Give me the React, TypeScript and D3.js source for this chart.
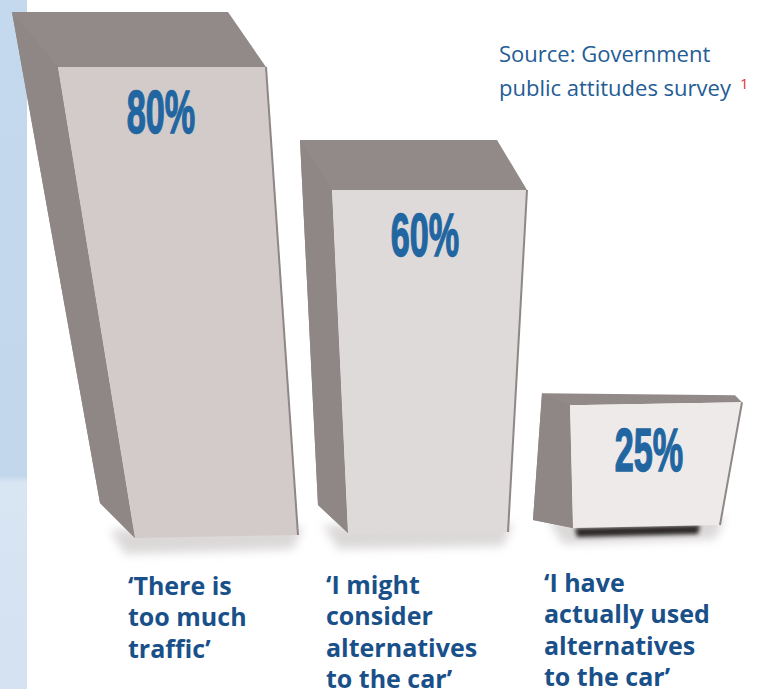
import React from "react";
import * as d3 from "d3";

const categories: string[][] = [
  ["‘There is", "too much", "traffic’"],
  ["‘I might", "consider", "alternatives", "to the car’"],
  ["‘I have", "actually used", "alternatives", "to the car’"],
];
const values: number[] = [80, 60, 25];
const valueLabels: string[] = ["80%", "60%", "25%"];
const sourceLines: string[] = ["Source: Government", "public attitudes survey"];
const footnote = "1";

// perspective geometry per bar (style, not data)
const shapes = [
  { ftl: 58, ftr: 266, fbl: [135, 538], fbr: [298, 535], btl: [-46, -55], btr: [-38, -55], sbl: [100, 503], front: "#d3cbca", labelX: 161, catX: 128, catY: 595 },
  { ftl: 332, ftr: 527, fbl: [348, 533], fbr: [508, 532], btl: [-32, -50], btr: [-30, -50], sbl: [318, 505], front: "#dedad9", labelX: 425, catX: 326, catY: 594 },
  { ftl: 570, ftr: 742, fbl: [573, 528], fbr: [720, 525], btl: [-28, -12], btr: [-7, -10], sbl: [533, 520], front: "#eeeaea", labelX: 649, catX: 544, catY: 592 },
];

const W = 758, H = 689;

export default function App() {
  const y = d3.scaleLinear().domain([0, 80]).range([559, 67]);
  const line = d3.line();
  return (
    <svg width={W} height={H} style={{ position: "absolute", left: 0, top: 0, background: "#fff" }}>
      <defs>
        <filter id="blur" x="-20%" y="-50%" width="140%" height="200%">
          <feGaussianBlur stdDeviation="5" />
        </filter>
        <filter id="blur2" x="-20%" y="-100%" width="140%" height="300%">
          <feGaussianBlur stdDeviation="2" />
        </filter>
        <linearGradient id="sky" x1="0" y1="0" x2="0" y2="1">
          <stop offset="0" stopColor="#c4d8ee" />
          <stop offset="0.69" stopColor="#c2d6ec" />
          <stop offset="0.70" stopColor="#d8e5f3" />
          <stop offset="1" stopColor="#d4e2f1" />
        </linearGradient>
      </defs>
      <rect x={0} y={0} width={27} height={H} fill="url(#sky)" />
      {values.map((v, i) => {
        const s = shapes[i];
        const top = y(v);
        const ftl: [number, number] = [s.ftl, top];
        const ftr: [number, number] = [s.ftr, i === 2 ? top - 3 : top];
        const btl: [number, number] = [s.ftl + s.btl[0], top + s.btl[1]];
        const btr: [number, number] = [s.ftr + s.btr[0], top + s.btr[1]];
        const fbl = s.fbl as [number, number];
        const fbr = s.fbr as [number, number];
        const sbl = s.sbl as [number, number];
        return (
          <g key={i}>
            <path
              d={line([[fbl[0] - 25, fbl[1] - 8], [fbr[0] + 5, fbr[1] - 8], [fbr[0] - 5, fbr[1] + 14], [fbl[0] - 10, fbl[1] + 16]])!}
              fill="#bdb8b8"
              opacity={0.55}
              filter="url(#blur)"
            />
            {i === 2 && (
              <path
                d={line([[fbl[0] + 2, fbl[1]], [fbr[0] - 20, fbr[1]], [fbr[0] - 22, fbr[1] + 9], [fbl[0] + 4, fbl[1] + 9]])!}
                fill="#2a2626"
                filter="url(#blur2)"
              />
            )}
            <path d={line([btl, btr, ftr, ftl, fbl, sbl])! + "Z"} fill="#918a89" />
            <path d={line([btl, ftl, fbl, sbl])! + "Z"} fill="#8e8786" />
            <path d={line([ftl, ftr, fbr, fbl])! + "Z"} fill={s.front} />
            <path d={line([ftr, fbr])!} stroke="#8e8786" strokeWidth={2} fill="none" />
            <text
              transform={`translate(${s.labelX},${top + 66}) scale(0.56,1)`}
              textAnchor="middle"
              fontFamily="Liberation Sans, Arial, sans-serif"
              fontWeight="bold"
              fontSize={61}
              fill="#2166a1"
              stroke="#2166a1"
              strokeWidth={1.5}
            >
              {valueLabels[i]}
            </text>
            <text fontFamily="Open Sans, sans-serif" fontWeight="bold" fontSize={25} fill="#1a5089">
              {categories[i].map((l, j) => (
                <tspan key={j} x={s.catX} y={s.catY + j * 31.3}>
                  {l}
                </tspan>
              ))}
            </text>
          </g>
        );
      })}
      <text fontFamily="Open Sans, sans-serif" fontSize={22} fill="#245c95">
        {sourceLines.map((l, j) => (
          <tspan key={j} x={499} y={62 + j * 34}>
            {l}
          </tspan>
        ))}
      </text>
      <text x={740} y={89} fontFamily="Open Sans, sans-serif" fontSize={15} fill="#e8343c">
        {footnote}
      </text>
    </svg>
  );
}
